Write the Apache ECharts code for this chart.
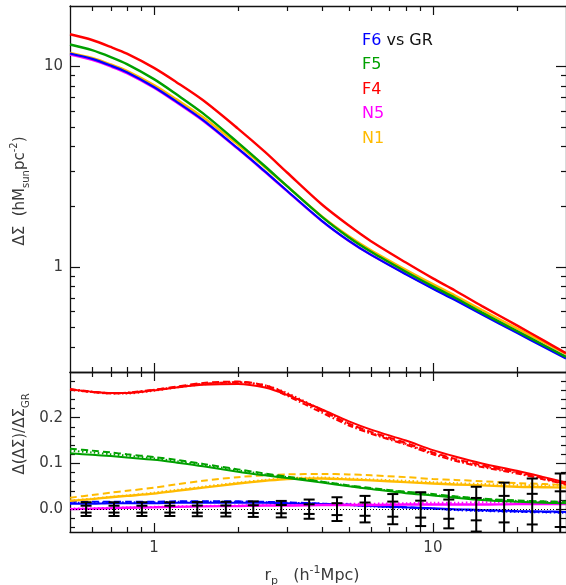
<!DOCTYPE html>
<html><head><meta charset="utf-8">
<script src="https://cdn.jsdelivr.net/npm/echarts@6/dist/echarts.min.js"></script>
<style>html,body{margin:0;padding:0;background:#fff}#c{width:566px;height:585px}</style>
</head><body><div id="c"></div>
<script>
// ---------- data ----------
const rp = [0.5,0.6,0.7,0.8,1,1.2,1.5,2,2.5,3,4,5,6,8,10,12,15,20,25,30];

// top panel: Delta Sigma (h Msun pc^-2)
const dsF6 = [11.6,10.9,10.1,9.35,7.9,6.7,5.4,3.9,3.0,2.4,1.7,1.35,1.15,0.92,0.78,0.685,0.58,0.47,0.40,0.35];
const dsF5 = [12.86,12.05,11.13,10.27,8.64,7.28,5.83,4.17,3.18,2.53,1.78,1.405,1.192,0.948,0.801,0.703,0.593,0.480,0.408,0.357];
const dsF4 = [14.46,13.54,12.50,11.57,9.83,8.37,6.78,4.90,3.75,2.96,2.05,1.61,1.345,1.053,0.878,0.765,0.639,0.512,0.430,0.372];
const dsN5 = [11.46,10.78,9.99,9.26,7.83,6.64,5.36,3.88,2.98,2.39,1.695,1.350,1.152,0.925,0.786,0.692,0.587,0.477,0.406,0.356];
const dsN1 = [11.67,11.01,10.23,9.50,8.07,6.87,5.58,4.07,3.14,2.53,1.79,1.425,1.214,0.970,0.822,0.722,0.611,0.495,0.421,0.369];

// bottom panel: relative difference vs GR
const relF4 = [0.262,0.257,0.254,0.254,0.260,0.266,0.272,0.274,0.266,0.250,0.218,0.192,0.174,0.150,0.129,0.115,0.100,0.084,0.070,0.058];
const relF4dash = [0.262,0.256,0.253,0.254,0.261,0.268,0.276,0.279,0.271,0.252,0.215,0.187,0.169,0.145,0.124,0.110,0.096,0.081,0.067,0.055];
const relF4dot = [0.261,0.256,0.253,0.253,0.259,0.266,0.273,0.277,0.271,0.254,0.217,0.187,0.167,0.143,0.122,0.108,0.094,0.080,0.066,0.055];
const relF4dd = [0.263,0.257,0.254,0.255,0.261,0.267,0.274,0.278,0.269,0.248,0.211,0.183,0.165,0.141,0.120,0.106,0.092,0.078,0.065,0.054];
const relF5 = [0.122,0.119,0.116,0.113,0.108,0.102,0.094,0.082,0.074,0.068,0.058,0.050,0.044,0.035,0.030,0.025,0.020,0.016,0.014,0.013];
const relF5dash = [0.132,0.128,0.124,0.120,0.114,0.108,0.099,0.087,0.078,0.071,0.060,0.052,0.046,0.038,0.033,0.028,0.023,0.019,0.017,0.016];
const relF5dot = [0.128,0.124,0.120,0.117,0.111,0.105,0.097,0.085,0.076,0.070,0.060,0.051,0.045,0.037,0.031,0.027,0.022,0.018,0.016,0.015];
const relN1 = [0.018,0.022,0.026,0.029,0.034,0.040,0.047,0.056,0.062,0.066,0.067,0.065,0.063,0.059,0.056,0.054,0.052,0.049,0.048,0.047];
const relN1dash = [0.025,0.031,0.036,0.040,0.047,0.054,0.062,0.070,0.074,0.076,0.077,0.076,0.074,0.070,0.066,0.064,0.061,0.057,0.055,0.053];
const relN1dot = [0.019,0.023,0.027,0.030,0.036,0.042,0.049,0.058,0.064,0.068,0.069,0.067,0.065,0.062,0.059,0.057,0.055,0.053,0.052,0.051];
const relF6 = [0.012,0.012,0.013,0.013,0.013,0.014,0.014,0.014,0.014,0.013,0.011,0.009,0.007,0.004,0.002,0.000,-0.002,-0.004,-0.005,-0.006];
const relF6dash = [0.016,0.016,0.016,0.016,0.016,0.017,0.017,0.017,0.016,0.015,0.012,0.010,0.007,0.004,0.001,-0.001,-0.003,-0.005,-0.006,-0.007];
const relF6dot = [0.014,0.014,0.015,0.015,0.015,0.016,0.016,0.016,0.015,0.014,0.012,0.009,0.006,0.003,0.001,-0.002,-0.004,-0.006,-0.007,-0.008];
const relN5 = [0.000,0.001,0.002,0.003,0.004,0.005,0.006,0.007,0.008,0.008,0.009,0.009,0.009,0.010,0.010,0.010,0.010,0.011,0.011,0.011];
const relN5dot = [0.001,0.002,0.003,0.004,0.005,0.006,0.007,0.008,0.009,0.010,0.011,0.012,0.012,0.013,0.014,0.014,0.015,0.015,0.016,0.016];

// error bars
const errR = [0.571,0.719,0.905,1.14,1.43,1.81,2.27,2.86,3.60,4.53,5.71,7.18,9.04,11.4,14.3,18.0,22.7,28.6];
const errMid = [0,0,0,0,0,0,0,0,0,0,0,0,0,0,0,0,0,0];
const errInner = [0.0075,0.0075,0.0075,0.0075,0.0078,0.008,0.0085,0.009,0.0105,0.013,0.0145,0.0165,0.0185,0.021,0.0245,0.029,0.0335,0.039];
const errOuter = [0.015,0.015,0.015,0.015,0.0155,0.016,0.017,0.018,0.021,0.026,0.029,0.033,0.037,0.042,0.049,0.058,0.067,0.078];

// ticks
const xMajor = [1,10];
const xMinor = [0.6,0.7,0.8,0.9,2,3,4,5,6,7,8,9,20];
const yTopMajor = [1,10];
const yTopMinor = [0.4,0.5,0.6,0.7,0.8,0.9,2,3,4,5,6,7,8,9];
const yBotMajor = [0.0,0.1,0.2];
const yBotMinor = [-0.04,-0.02,0.02,0.04,0.06,0.08,0.12,0.14,0.16,0.18,0.22,0.24,0.26,0.28];

const legendItems = ['F6','F5','F4','N5','N1'];
// ---------- styling ----------
const C = {F6:'#0000ff', F5:'#00a000', F4:'#ff0000', N5:'#ff00ff', N1:'#ffbb00'};
const FONT = 'DejaVu Sans';
const TXT = '#3a3a3a';
const AX = '#111';

function pairs(xs, ys){ return xs.map((x,i)=>[x, ys[i]]); }

function xAx(gi, pos, major, label){
  return {type:'log', logBase:10, gridIndex:gi, min:0.5, max:30, position:pos,
    axisLine:{show:major, onZero:false, lineStyle:{color:AX, width:1.3}},
    splitLine:{show:false}, minorTick:{show:false},
    axisTick:{show:true, inside:true, length:major?9:5, customValues:major?xMajor:xMinor, lineStyle:{color:AX, width:1.2}},
    axisLabel:{show:label, customValues:xMajor, margin:9, color:TXT, fontFamily:FONT, fontSize:15,
      formatter:v=>String(Math.round(v))}
  };
}
function yTopAx(pos, major, label){
  return {type:'log', logBase:10, gridIndex:0, min:0.3, max:20, position:pos,
    axisLine:{show:major, onZero:false, lineStyle:{color:AX, width:1.3}},
    splitLine:{show:false}, minorTick:{show:false},
    axisTick:{show:true, inside:true, length:major?10:5, customValues:major?yTopMajor:yTopMinor, lineStyle:{color:AX, width:1.2}},
    axisLabel:{show:label, customValues:yTopMajor, margin:7, color:TXT, fontFamily:FONT, fontSize:15,
      formatter:v=>String(Math.round(v))}
  };
}
function yBotAx(pos, major, label){
  return {type:'value', gridIndex:1, min:-0.05, max:0.3, position:pos,
    axisLine:{show:major, onZero:false, lineStyle:{color:AX, width:1.3}},
    splitLine:{show:false}, minorTick:{show:false},
    axisTick:{show:true, inside:true, length:major?10:5, customValues:major?yBotMajor:yBotMinor, lineStyle:{color:AX, width:1.2}},
    axisLabel:{show:label, customValues:yBotMajor, margin:7, color:TXT, fontFamily:FONT, fontSize:15,
      formatter:v=>Math.abs(v).toFixed(1)}
  };
}

const xAxes = [
  xAx(0,'bottom',true,false), xAx(0,'bottom',false,false), xAx(0,'top',true,false), xAx(0,'top',false,false),
  xAx(1,'bottom',true,true), xAx(1,'bottom',false,false), xAx(1,'top',true,false), xAx(1,'top',false,false)
];
const yAxes = [
  yTopAx('left',true,true), yTopAx('left',false,false), yTopAx('right',true,false), yTopAx('right',false,false),
  yBotAx('left',true,true), yBotAx('left',false,false), yBotAx('right',true,false), yBotAx('right',false,false)
];

const DASH = [7,4], DOT = [1.5,2.5], DD = [6,2.5,1.5,2.5];
function line(gi, xs, ys, color, type, w){
  return {type:'line', xAxisIndex:gi*4, yAxisIndex:gi*4, data:pairs(xs, ys), showSymbol:false,
    smooth:0.3,
    silent:true, animation:false, clip:true,
    lineStyle:{color:color, width:w||2, type:type||'solid'}};
}

const series = [
  // top
  line(0, rp, dsN1, C.N1, 'solid', 2.4),
  line(0, rp, dsN5, C.N5, 'solid', 2.4),
  line(0, rp, dsF6, C.F6, 'solid', 2.2),
  line(0, rp, dsF5, C.F5, 'solid', 2.4),
  line(0, rp, dsF4, C.F4, 'solid', 2.4),
  // bottom
  line(1, rp, relN5dot, C.N5, DOT),
  line(1, rp, relF6dash, C.F6, DASH),
  line(1, rp, relF6dot, C.F6, DOT),
  line(1, rp, relF6, C.F6, 'solid'),
  line(1, rp, relN5, C.N5, 'solid', 2.4),
  line(1, rp, relN1dash, C.N1, DASH),
  line(1, rp, relN1dot, C.N1, DOT),
  line(1, rp, relN1, C.N1, 'solid', 2.4),
  line(1, rp, relF5dash, C.F5, DASH),
  line(1, rp, relF5dot, C.F5, DOT),
  line(1, rp, relF5, C.F5, 'solid'),
  line(1, rp, relF4dash, C.F4, DASH),
  line(1, rp, relF4dot, C.F4, DOT),
  line(1, rp, relF4dd, C.F4, DD),
  line(1, rp, relF4, C.F4, 'solid'),
  {type:'line', xAxisIndex:4, yAxisIndex:4, data:[], silent:true, animation:false,
    markLine:{silent:true, symbol:'none', label:{show:false}, animation:false,
      lineStyle:{color:'#000', width:1, type:[1,2]}, data:[{yAxis:0}]}},
  {type:'custom', xAxisIndex:4, yAxisIndex:4, silent:true, animation:false, clip:true, z:5,
    data: errR.map((r,i)=>[r, errMid[i], errInner[i], errOuter[i]]),
    encode:{x:0, y:1},
    renderItem:(params, api)=>{
      const x = api.value(0), m = api.value(1), a = api.value(2), b = api.value(3);
      const pT = api.coord([x, m + b]), pB = api.coord([x, m - b]);
      const iT = api.coord([x, m + a]), iB = api.coord([x, m - a]);
      const w = 5.5, st = {stroke:'#000', lineWidth:2};
      const cap = p => ({type:'line', shape:{x1:p[0]-w, y1:p[1], x2:p[0]+w, y2:p[1]}, style:st});
      return {type:'group', children:[
        {type:'line', shape:{x1:pT[0], y1:pT[1], x2:pB[0], y2:pB[1]}, style:st},
        cap(pT), cap(pB), cap(iT), cap(iB)
      ]};
    }}
];

function richSet(fs){
  return {
    a:{fontFamily:FONT, fontSize:fs, fill:TXT, lineHeight:22, verticalAlign:'middle'},
    s:{fontFamily:FONT, fontSize:Math.round(fs*0.66), fill:TXT, lineHeight:22, verticalAlign:'bottom'},
    p:{fontFamily:FONT, fontSize:Math.round(fs*0.66), fill:TXT, lineHeight:22, verticalAlign:'top'}
  };
}

const legendY = [42.5, 67, 91.5, 116, 140.5];
const legendGraphics = legendItems.map((name,i)=>({
  type:'text', left:362, top:legendY[i]-10, silent:true,
  style:{text: i===0 ? '{c|F6}{k| vs GR}' : '{c|'+name+'}',
    rich:{c:{fontFamily:FONT, fontSize:16, fill:C[name]}, k:{fontFamily:FONT, fontSize:16, fill:'#111'}}}
}));

const option = {
  backgroundColor:'#fff',
  animation:false,
  grid:[
    {left:70, top:6, width:503, height:366},
    {left:70, top:372, width:503, height:160}
  ],
  xAxis: xAxes,
  yAxis: yAxes,
  series: series,
  graphic: [
    {type:'text', x:20, y:191, rotation:Math.PI/2, silent:true,
      style:{text:'{a|ΔΣ  (hM}{s|sun}{a|pc}{p|-2}{a|)}', rich:richSet(15), align:'center', verticalAlign:'middle'}},
    {type:'text', x:20, y:434, rotation:Math.PI/2, silent:true,
      style:{text:'{a|Δ(ΔΣ)/ΔΣ}{s|GR}', rich:richSet(15), align:'center', verticalAlign:'middle'}},
    {type:'text', x:312, y:576, silent:true,
      style:{text:'{a|r}{s|p}{a|   (h}{p|-1}{a|Mpc)}', rich:richSet(16), align:'center', verticalAlign:'middle'}}
  ].concat(legendGraphics)
};
const chart = echarts.init(document.getElementById('c'), null, {renderer:'canvas'});
chart.setOption(option);
</script>
</body></html>
